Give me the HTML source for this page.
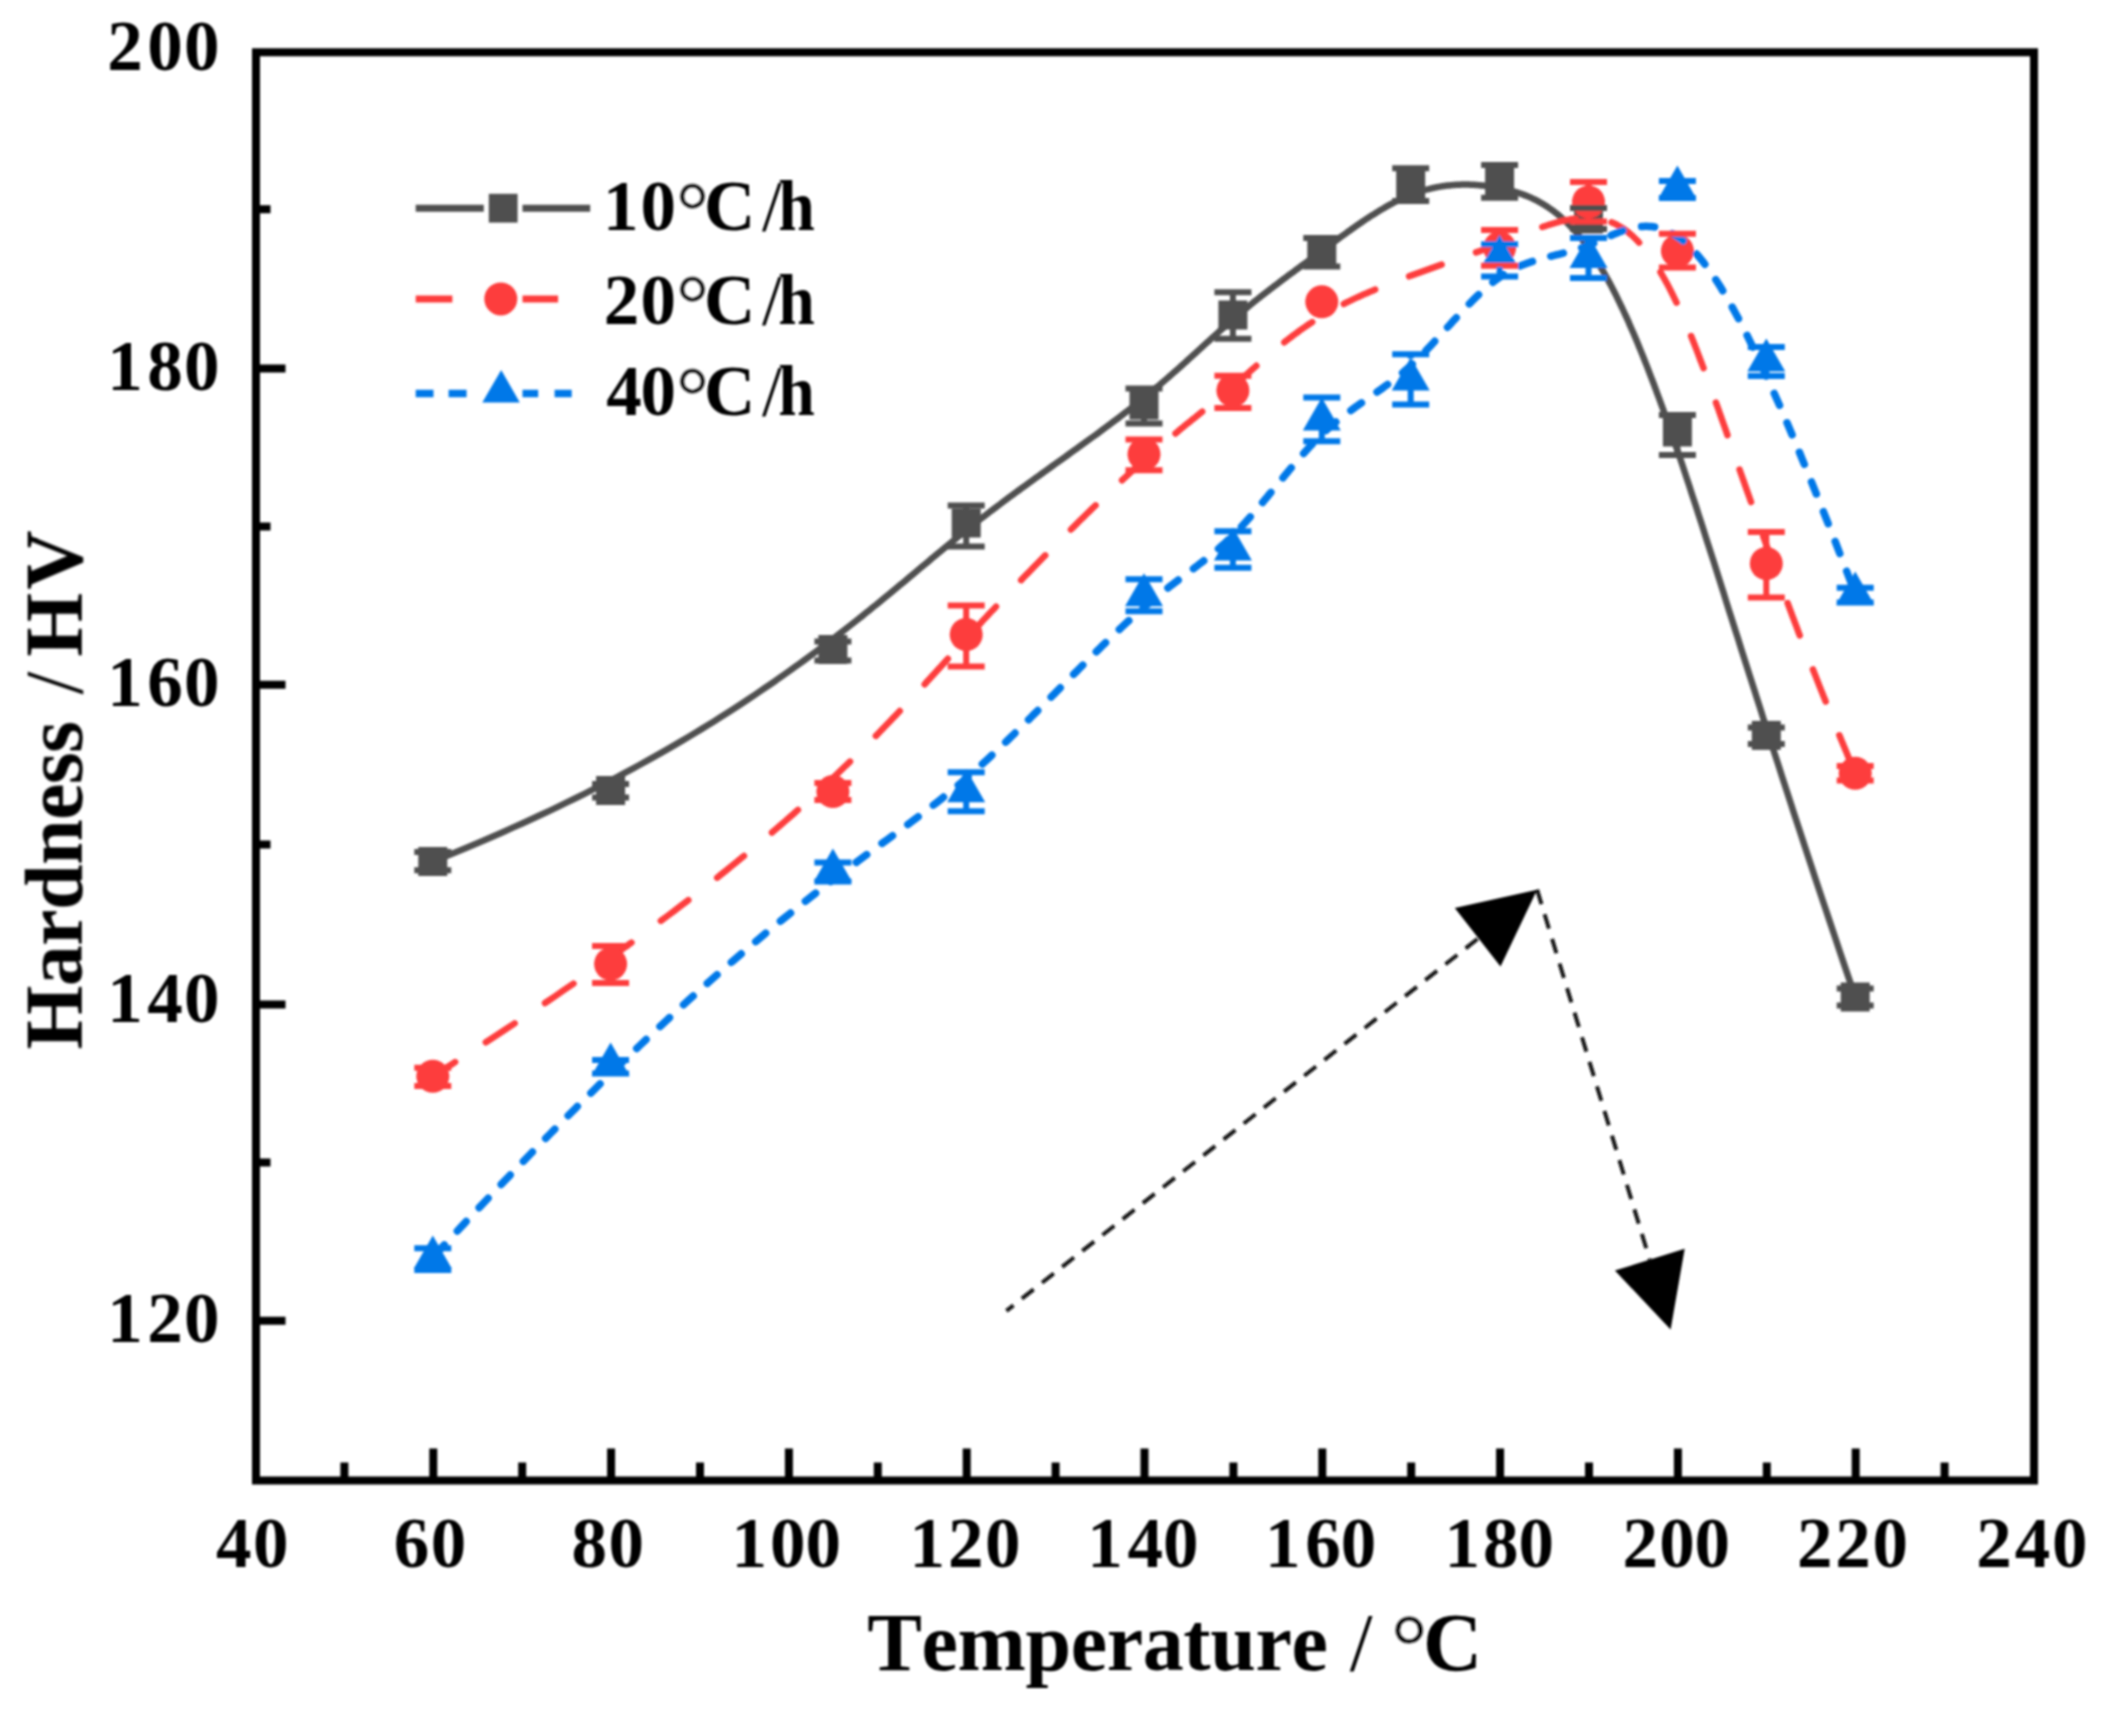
<!DOCTYPE html>
<html lang="en"><head><meta charset="utf-8"><title>Hardness vs Temperature</title>
<style>html,body{margin:0;padding:0;background:#fff}svg{display:block}text{font-family:"Liberation Serif",serif;font-weight:bold;fill:#000;font-kerning:none}</style></head><body>
<svg width="2101" height="1718" viewBox="0 0 2101 1718">
<defs><filter id="soft" x="0" y="0" width="2101" height="1718" filterUnits="userSpaceOnUse"><feGaussianBlur stdDeviation="0.9"/></filter></defs>
<rect width="2101" height="1718" fill="#fff"/>
<g filter="url(#soft)">
<g id="plot-black"><path d="M432.8,861.5 L443.4,857.2 L453.9,853.0 L464.2,848.7 L474.3,844.4 L484.3,840.2 L494.1,835.9 L503.8,831.7 L513.3,827.4 L522.7,823.2 L531.9,819.0 L541.0,814.8 L550.0,810.6 L558.8,806.4 L567.4,802.2 L576.0,798.0 L584.4,793.8 L592.6,789.6 L600.7,785.5 L608.7,781.4 L616.6,777.3 L624.3,773.1 L631.9,769.1 L639.4,765.0 L646.8,760.9 L654.0,756.9 L661.1,752.9 L668.1,748.9 L675.0,744.9 L681.8,740.9 L688.4,737.0 L695.0,733.0 L701.4,729.1 L707.7,725.2 L713.9,721.4 L720.0,717.6 L726.0,713.7 L731.9,710.0 L737.7,706.2 L743.4,702.5 L749.0,698.8 L754.5,695.1 L759.9,691.4 L765.2,687.8 L770.5,684.2 L775.6,680.7 L780.6,677.1 L785.6,673.6 L790.5,670.2 L795.3,666.7 L800.0,663.3 L804.6,660.0 L809.2,656.6 L813.6,653.3 L818.0,650.1 L822.4,646.8 L826.6,643.6 L830.8,640.4 L834.9,637.3 L839.0,634.2 L843.0,631.1 L846.9,628.0 L850.8,625.0 L854.6,622.0 L858.4,619.0 L862.1,616.1 L865.8,613.1 L869.4,610.2 L872.9,607.3 L876.5,604.5 L879.9,601.7 L883.4,598.8 L886.8,596.0 L890.2,593.3 L893.5,590.5 L896.8,587.8 L900.0,585.1 L903.3,582.4 L906.5,579.7 L909.7,577.0 L912.8,574.4 L916.0,571.8 L919.1,569.1 L922.2,566.5 L925.3,564.0 L928.4,561.4 L931.4,558.8 L934.5,556.3 L937.5,553.7 L940.6,551.2 L943.6,548.7 L946.6,546.2 L949.7,543.7 L952.7,541.2 L955.8,538.7 L958.8,536.2 L961.9,533.8 L964.9,531.3 L968.0,528.8 L971.1,526.4 L974.2,523.9 L977.4,521.5 L980.5,519.0 L983.7,516.6 L986.8,514.2 L990.0,511.7 L993.2,509.3 L996.5,506.9 L999.7,504.5 L1002.9,502.0 L1006.1,499.6 L1009.4,497.2 L1012.6,494.8 L1015.9,492.4 L1019.2,490.0 L1022.4,487.7 L1025.7,485.3 L1029.0,482.9 L1032.2,480.6 L1035.5,478.2 L1038.8,475.8 L1042.0,473.5 L1045.3,471.2 L1048.5,468.8 L1051.7,466.5 L1055.0,464.2 L1058.2,461.9 L1061.4,459.6 L1064.6,457.3 L1067.8,455.0 L1071.0,452.7 L1074.1,450.4 L1077.3,448.2 L1080.4,445.9 L1083.5,443.7 L1086.6,441.4 L1089.7,439.2 L1092.7,437.0 L1095.8,434.8 L1098.8,432.6 L1101.7,430.4 L1104.7,428.2 L1107.6,426.0 L1110.5,423.9 L1113.4,421.7 L1116.2,419.6 L1119.1,417.5 L1121.8,415.3 L1124.6,413.2 L1127.3,411.1 L1130.0,409.0 L1132.6,407.0 L1135.2,404.9 L1137.8,402.9 L1140.4,400.8 L1142.9,398.8 L1145.3,396.8 L1147.8,394.8 L1150.2,392.8 L1152.6,390.8 L1154.9,388.8 L1157.3,386.8 L1159.6,384.9 L1161.8,382.9 L1164.1,381.0 L1166.3,379.1 L1168.5,377.2 L1170.7,375.3 L1172.8,373.4 L1175.0,371.5 L1177.1,369.7 L1179.2,367.8 L1181.2,366.0 L1183.3,364.1 L1185.3,362.3 L1187.3,360.5 L1189.3,358.7 L1191.3,356.9 L1193.2,355.1 L1195.2,353.4 L1197.1,351.6 L1199.0,349.9 L1200.9,348.2 L1202.8,346.4 L1204.7,344.7 L1206.5,343.0 L1208.4,341.3 L1210.2,339.7 L1212.0,338.0 L1213.9,336.3 L1215.7,334.7 L1217.5,333.1 L1219.3,331.4 L1221.1,329.8 L1222.9,328.2 L1224.7,326.6 L1226.5,325.0 L1228.3,323.5 L1230.0,321.9 L1231.8,320.4 L1233.6,318.8 L1235.4,317.3 L1237.2,315.8 L1239.0,314.3 L1240.7,312.8 L1242.5,311.3 L1244.3,309.8 L1246.1,308.4 L1247.9,306.9 L1249.6,305.5 L1251.4,304.0 L1253.2,302.6 L1255.0,301.1 L1256.8,299.7 L1258.6,298.3 L1260.3,296.9 L1262.1,295.5 L1263.9,294.1 L1265.7,292.7 L1267.5,291.4 L1269.2,290.0 L1271.0,288.6 L1272.8,287.3 L1274.6,285.9 L1276.4,284.6 L1278.2,283.2 L1279.9,281.9 L1281.7,280.5 L1283.5,279.2 L1285.3,277.9 L1287.1,276.5 L1288.8,275.2 L1290.6,273.9 L1292.4,272.6 L1294.2,271.3 L1296.0,269.9 L1297.7,268.6 L1299.5,267.3 L1301.3,266.0 L1303.1,264.7 L1304.9,263.4 L1306.7,262.1 L1308.4,260.8 L1310.2,259.5 L1312.0,258.2 L1313.8,256.9 L1315.6,255.6 L1317.3,254.2 L1319.1,252.9 L1320.9,251.6 L1322.7,250.3 L1324.5,249.0 L1326.3,247.7 L1328.0,246.4 L1329.8,245.1 L1331.6,243.7 L1333.4,242.4 L1335.2,241.1 L1336.9,239.8 L1338.7,238.5 L1340.5,237.2 L1342.3,235.9 L1344.1,234.6 L1345.9,233.3 L1347.6,232.0 L1349.4,230.8 L1351.2,229.5 L1353.0,228.2 L1354.8,227.0 L1356.5,225.7 L1358.3,224.5 L1360.1,223.3 L1361.9,222.0 L1363.7,220.8 L1365.4,219.6 L1367.2,218.5 L1369.0,217.3 L1370.8,216.1 L1372.6,215.0 L1374.4,213.9 L1376.1,212.8 L1377.9,211.7 L1379.7,210.6 L1381.5,209.5 L1383.3,208.5 L1385.0,207.4 L1386.8,206.4 L1388.6,205.4 L1390.4,204.4 L1392.2,203.5 L1394.0,202.5 L1395.7,201.6 L1397.5,200.7 L1399.3,199.9 L1401.1,199.0 L1402.9,198.2 L1404.6,197.4 L1406.4,196.6 L1408.2,195.9 L1410.0,195.1 L1411.8,194.4 L1413.6,193.8 L1415.3,193.1 L1417.1,192.5 L1418.9,191.9 L1420.7,191.3 L1422.5,190.8 L1424.2,190.2 L1426.0,189.7 L1427.8,189.3 L1429.6,188.8 L1431.4,188.4 L1433.1,188.0 L1434.9,187.6 L1436.7,187.2 L1438.5,186.9 L1440.3,186.6 L1442.1,186.3 L1443.8,186.1 L1445.6,185.8 L1447.4,185.6 L1449.2,185.4 L1451.0,185.2 L1452.7,185.1 L1454.5,184.9 L1456.3,184.8 L1458.1,184.7 L1459.9,184.7 L1461.7,184.6 L1463.4,184.6 L1465.2,184.6 L1467.0,184.6 L1468.8,184.6 L1470.6,184.7 L1472.3,184.7 L1474.1,184.8 L1475.9,184.9 L1477.7,185.1 L1479.5,185.2 L1481.2,185.4 L1483.0,185.6 L1484.8,185.8 L1486.6,186.0 L1488.4,186.2 L1490.2,186.5 L1491.9,186.7 L1493.7,187.0 L1495.5,187.3 L1497.3,187.7 L1499.1,188.0 L1500.8,188.3 L1502.6,188.7 L1504.4,189.1 L1506.2,189.5 L1508.0,189.9 L1509.8,190.4 L1511.5,190.9 L1513.3,191.4 L1515.1,191.9 L1516.9,192.4 L1518.7,193.0 L1520.4,193.6 L1522.2,194.2 L1524.0,194.9 L1525.8,195.6 L1527.6,196.3 L1529.4,197.1 L1531.1,197.8 L1532.9,198.7 L1534.7,199.5 L1536.5,200.4 L1538.3,201.4 L1540.0,202.3 L1541.8,203.4 L1543.6,204.4 L1545.4,205.5 L1547.2,206.7 L1548.9,207.9 L1550.7,209.1 L1552.5,210.4 L1554.3,211.7 L1556.1,213.1 L1557.9,214.5 L1559.6,216.0 L1561.4,217.6 L1563.2,219.2 L1565.0,220.8 L1566.8,222.5 L1568.5,224.3 L1570.3,226.1 L1572.1,228.0 L1573.9,229.9 L1575.7,231.9 L1577.5,234.0 L1579.2,236.1 L1581.0,238.3 L1582.8,240.6 L1584.6,242.9 L1586.4,245.3 L1588.1,247.7 L1589.9,250.3 L1591.7,252.9 L1593.5,255.5 L1595.3,258.3 L1597.1,261.1 L1598.8,264.0 L1600.6,267.0 L1602.4,270.0 L1604.2,273.1 L1606.0,276.3 L1607.8,279.6 L1609.6,282.9 L1611.4,286.3 L1613.2,289.8 L1615.1,293.4 L1616.9,297.1 L1618.7,300.8 L1620.5,304.6 L1622.4,308.5 L1624.2,312.5 L1626.1,316.5 L1628.0,320.6 L1629.8,324.9 L1631.7,329.2 L1633.6,333.5 L1635.5,338.0 L1637.4,342.5 L1639.3,347.2 L1641.2,351.9 L1643.2,356.7 L1645.1,361.6 L1647.1,366.6 L1649.0,371.6 L1651.0,376.8 L1653.0,382.0 L1655.0,387.4 L1657.0,392.8 L1659.1,398.3 L1661.1,403.9 L1663.2,409.6 L1665.2,415.4 L1667.3,421.3 L1669.4,427.2 L1671.5,433.3 L1673.7,439.5 L1675.8,445.7 L1678.0,452.1 L1680.2,458.5 L1682.4,465.0 L1684.6,471.7 L1686.8,478.4 L1689.1,485.2 L1691.3,492.2 L1693.6,499.2 L1696.0,506.4 L1698.3,513.7 L1700.7,521.0 L1703.1,528.5 L1705.5,536.2 L1708.0,543.9 L1710.5,551.8 L1713.1,559.8 L1715.7,568.0 L1718.3,576.3 L1721.0,584.7 L1723.7,593.3 L1726.4,602.1 L1729.2,611.0 L1732.1,620.0 L1735.0,629.2 L1738.0,638.6 L1741.0,648.2 L1744.1,657.9 L1747.2,667.8 L1750.4,677.8 L1753.7,688.1 L1757.0,698.5 L1760.4,709.1 L1763.8,719.9 L1767.3,730.9 L1770.9,742.1 L1774.6,753.5 L1778.4,765.1 L1782.2,777.0 L1786.1,789.0 L1790.1,801.2 L1794.1,813.7 L1798.3,826.4 L1802.5,839.3 L1806.8,852.4 L1811.2,865.8 L1815.7,879.4 L1820.3,893.2 L1825.0,907.3 L1829.8,921.6 L1834.7,936.2 L1839.6,951.0 L1844.7,966.1 L1849.9,981.4 L1855.2,997.0" fill="none" stroke="#4f4f4f" stroke-width="6.5" stroke-linejoin="round"/>
<rect x="418.3" y="847.0" width="29.0" height="29.0" fill="#4f4f4f"/>
<rect x="596.1" y="776.0" width="29.0" height="29.0" fill="#4f4f4f"/>
<rect x="818.4" y="635.0" width="29.0" height="29.0" fill="#4f4f4f"/>
<rect x="951.7" y="508.5" width="29.0" height="29.0" fill="#4f4f4f"/>
<rect x="1129.5" y="390.5" width="29.0" height="29.0" fill="#4f4f4f"/>
<rect x="1218.4" y="300.5" width="29.0" height="29.0" fill="#4f4f4f"/>
<rect x="1307.3" y="237.2" width="29.0" height="29.0" fill="#4f4f4f"/>
<rect x="1396.2" y="169.5" width="29.0" height="29.0" fill="#4f4f4f"/>
<rect x="1485.1" y="166.9" width="29.0" height="29.0" fill="#4f4f4f"/>
<rect x="1574.0" y="204.5" width="29.0" height="29.0" fill="#4f4f4f"/>
<rect x="1662.9" y="417.5" width="29.0" height="29.0" fill="#4f4f4f"/>
<rect x="1751.8" y="720.9" width="29.0" height="29.0" fill="#4f4f4f"/>
<rect x="1840.7" y="982.5" width="29.0" height="29.0" fill="#4f4f4f"/></g>
<g id="plot-red"><path d="M432.8,1076.3 L442.4,1070.2 L451.8,1064.2 L461.1,1058.3 L470.3,1052.4 L479.3,1046.5 L488.2,1040.7 L497.0,1035.0 L505.7,1029.3 L514.3,1023.6 L522.7,1018.0 L531.0,1012.5 L539.2,1007.0 L547.3,1001.5 L555.3,996.1 L563.1,990.7 L570.9,985.4 L578.5,980.1 L586.0,974.9 L593.4,969.7 L600.7,964.5 L607.9,959.4 L615.0,954.4 L622.0,949.4 L628.9,944.4 L635.7,939.5 L642.4,934.6 L649.0,929.7 L655.5,924.9 L661.8,920.2 L668.1,915.5 L674.3,910.8 L680.4,906.2 L686.4,901.6 L692.4,897.0 L698.2,892.5 L703.9,888.0 L709.6,883.6 L715.2,879.2 L720.6,874.9 L726.0,870.6 L731.3,866.3 L736.6,862.0 L741.7,857.8 L746.8,853.7 L751.8,849.5 L756.7,845.4 L761.5,841.4 L766.3,837.4 L771.0,833.4 L775.6,829.4 L780.1,825.5 L784.6,821.6 L789.0,817.8 L793.4,814.0 L797.6,810.2 L801.8,806.4 L806.0,802.7 L810.1,799.0 L814.1,795.4 L818.0,791.8 L821.9,788.2 L825.8,784.6 L829.6,781.1 L833.3,777.6 L837.0,774.1 L840.6,770.6 L844.2,767.2 L847.7,763.8 L851.2,760.4 L854.6,757.1 L858.0,753.7 L861.4,750.4 L864.7,747.1 L867.9,743.9 L871.2,740.6 L874.4,737.4 L877.5,734.2 L880.6,731.0 L883.7,727.8 L886.8,724.6 L889.8,721.5 L892.8,718.3 L895.8,715.2 L898.7,712.1 L901.7,709.0 L904.6,705.9 L907.4,702.8 L910.3,699.8 L913.1,696.7 L916.0,693.7 L918.8,690.6 L921.6,687.6 L924.4,684.6 L927.1,681.5 L929.9,678.5 L932.6,675.5 L935.4,672.5 L938.1,669.5 L940.9,666.5 L943.6,663.5 L946.3,660.5 L949.1,657.5 L951.8,654.5 L954.5,651.5 L957.3,648.4 L960.0,645.4 L962.8,642.4 L965.6,639.4 L968.3,636.4 L971.1,633.3 L973.9,630.3 L976.7,627.2 L979.6,624.2 L982.4,621.1 L985.3,618.1 L988.1,615.0 L991.0,611.9 L993.9,608.9 L996.8,605.8 L999.7,602.7 L1002.6,599.6 L1005.5,596.5 L1008.4,593.5 L1011.3,590.4 L1014.3,587.3 L1017.2,584.3 L1020.1,581.2 L1023.1,578.1 L1026.0,575.1 L1029.0,572.1 L1031.9,569.0 L1034.8,566.0 L1037.8,563.0 L1040.7,560.0 L1043.6,557.0 L1046.6,554.0 L1049.5,551.0 L1052.4,548.1 L1055.3,545.2 L1058.2,542.2 L1061.1,539.3 L1064.0,536.4 L1066.8,533.6 L1069.7,530.7 L1072.6,527.9 L1075.4,525.1 L1078.2,522.3 L1081.0,519.5 L1083.8,516.8 L1086.6,514.0 L1089.4,511.3 L1092.1,508.7 L1094.9,506.0 L1097.6,503.4 L1100.3,500.8 L1102.9,498.2 L1105.6,495.7 L1108.2,493.2 L1110.8,490.7 L1113.4,488.3 L1116.0,485.9 L1118.5,483.5 L1121.0,481.2 L1123.5,478.9 L1126.0,476.6 L1128.4,474.4 L1130.8,472.2 L1133.2,470.0 L1135.5,467.9 L1137.8,465.8 L1140.1,463.8 L1142.4,461.7 L1144.6,459.8 L1146.8,457.8 L1149.0,455.9 L1151.2,454.0 L1153.3,452.2 L1155.4,450.3 L1157.5,448.5 L1159.6,446.7 L1161.6,445.0 L1163.6,443.3 L1165.7,441.6 L1167.6,439.9 L1169.6,438.3 L1171.6,436.6 L1173.5,435.0 L1175.4,433.5 L1177.3,431.9 L1179.2,430.3 L1181.0,428.8 L1182.9,427.3 L1184.7,425.8 L1186.5,424.3 L1188.3,422.9 L1190.1,421.4 L1191.8,420.0 L1193.6,418.6 L1195.4,417.2 L1197.1,415.8 L1198.8,414.4 L1200.5,413.0 L1202.2,411.6 L1203.9,410.3 L1205.6,408.9 L1207.3,407.5 L1208.9,406.2 L1210.6,404.9 L1212.2,403.5 L1213.9,402.2 L1215.5,400.8 L1217.1,399.5 L1218.8,398.2 L1220.4,396.8 L1222.0,395.5 L1223.6,394.2 L1225.2,392.8 L1226.8,391.5 L1228.4,390.1 L1230.0,388.8 L1231.7,387.4 L1233.3,386.0 L1234.9,384.6 L1236.5,383.3 L1238.1,381.9 L1239.7,380.5 L1241.3,379.1 L1242.9,377.6 L1244.5,376.2 L1246.1,374.8 L1247.8,373.4 L1249.4,371.9 L1251.0,370.5 L1252.7,369.0 L1254.3,367.6 L1256.0,366.1 L1257.6,364.7 L1259.3,363.2 L1261.0,361.8 L1262.6,360.3 L1264.3,358.8 L1266.0,357.4 L1267.8,355.9 L1269.5,354.4 L1271.2,353.0 L1273.0,351.5 L1274.7,350.0 L1276.5,348.6 L1278.3,347.1 L1280.1,345.6 L1281.9,344.2 L1283.8,342.7 L1285.6,341.2 L1287.5,339.8 L1289.4,338.3 L1291.3,336.9 L1293.2,335.4 L1295.1,334.0 L1297.1,332.6 L1299.0,331.1 L1301.0,329.7 L1303.0,328.3 L1305.1,326.9 L1307.1,325.5 L1309.2,324.0 L1311.3,322.7 L1313.4,321.3 L1315.6,319.9 L1317.8,318.5 L1320.0,317.1 L1322.2,315.8 L1324.4,314.4 L1326.7,313.1 L1329.0,311.8 L1331.3,310.5 L1333.7,309.2 L1336.1,307.9 L1338.5,306.6 L1340.9,305.3 L1343.4,304.1 L1345.9,302.8 L1348.4,301.6 L1351.0,300.3 L1353.5,299.1 L1356.1,297.9 L1358.7,296.7 L1361.4,295.5 L1364.0,294.3 L1366.7,293.2 L1369.3,292.0 L1372.0,290.9 L1374.8,289.7 L1377.5,288.6 L1380.2,287.5 L1383.0,286.3 L1385.7,285.2 L1388.5,284.1 L1391.3,283.0 L1394.1,282.0 L1396.8,280.9 L1399.6,279.8 L1402.4,278.8 L1405.2,277.7 L1408.1,276.7 L1410.9,275.6 L1413.7,274.6 L1416.5,273.6 L1419.3,272.6 L1422.1,271.6 L1424.9,270.6 L1427.7,269.6 L1430.4,268.6 L1433.2,267.6 L1436.0,266.6 L1438.7,265.6 L1441.5,264.7 L1444.2,263.7 L1446.9,262.7 L1449.7,261.8 L1452.4,260.8 L1455.0,259.9 L1457.7,258.9 L1460.3,258.0 L1463.0,257.1 L1465.6,256.2 L1468.2,255.2 L1470.7,254.3 L1473.3,253.4 L1475.8,252.5 L1478.3,251.6 L1480.7,250.7 L1483.2,249.8 L1485.6,248.9 L1488.0,248.0 L1490.3,247.1 L1492.6,246.2 L1494.9,245.3 L1497.2,244.4 L1499.5,243.5 L1501.7,242.7 L1503.9,241.8 L1506.0,241.0 L1508.2,240.1 L1510.3,239.3 L1512.4,238.4 L1514.5,237.6 L1516.5,236.8 L1518.6,236.0 L1520.6,235.2 L1522.6,234.4 L1524.6,233.6 L1526.5,232.9 L1528.4,232.1 L1530.4,231.4 L1532.3,230.7 L1534.1,230.0 L1536.0,229.3 L1537.8,228.6 L1539.7,227.9 L1541.5,227.3 L1543.3,226.7 L1545.1,226.1 L1546.9,225.5 L1548.6,224.9 L1550.4,224.3 L1552.1,223.8 L1553.8,223.3 L1555.5,222.8 L1557.3,222.3 L1558.9,221.8 L1560.6,221.4 L1562.3,221.0 L1564.0,220.6 L1565.6,220.2 L1567.3,219.9 L1568.9,219.6 L1570.6,219.3 L1572.2,219.0 L1573.8,218.8 L1575.4,218.5 L1577.1,218.3 L1578.7,218.2 L1580.3,218.0 L1581.9,217.9 L1583.5,217.9 L1585.1,217.8 L1586.7,217.8 L1588.3,217.8 L1589.9,217.8 L1591.5,217.9 L1593.1,218.0 L1594.7,218.2 L1596.3,218.3 L1598.0,218.6 L1599.6,218.8 L1601.2,219.1 L1602.8,219.5 L1604.4,219.9 L1606.0,220.4 L1607.6,220.9 L1609.3,221.4 L1610.9,222.0 L1612.5,222.7 L1614.2,223.4 L1615.8,224.2 L1617.4,225.1 L1619.1,226.0 L1620.7,227.0 L1622.4,228.0 L1624.1,229.2 L1625.7,230.3 L1627.4,231.6 L1629.1,233.0 L1630.8,234.4 L1632.5,235.9 L1634.2,237.5 L1635.9,239.2 L1637.6,240.9 L1639.3,242.8 L1641.0,244.7 L1642.8,246.7 L1644.5,248.9 L1646.3,251.1 L1648.1,253.4 L1649.8,255.8 L1651.6,258.3 L1653.4,260.9 L1655.2,263.7 L1657.0,266.5 L1658.9,269.4 L1660.7,272.5 L1662.5,275.6 L1664.4,278.9 L1666.3,282.3 L1668.2,285.8 L1670.1,289.4 L1672.0,293.2 L1673.9,297.1 L1675.8,301.1 L1677.8,305.2 L1679.7,309.5 L1681.7,313.9 L1683.7,318.4 L1685.7,323.0 L1687.7,327.8 L1689.8,332.8 L1691.8,337.8 L1693.9,343.0 L1696.0,348.4 L1698.1,353.9 L1700.2,359.5 L1702.4,365.2 L1704.6,371.1 L1706.8,377.1 L1709.0,383.2 L1711.3,389.4 L1713.6,395.8 L1715.9,402.4 L1718.3,409.0 L1720.7,415.8 L1723.1,422.7 L1725.6,429.7 L1728.1,436.9 L1730.7,444.1 L1733.3,451.5 L1735.9,459.1 L1738.6,466.7 L1741.3,474.5 L1744.1,482.4 L1746.9,490.4 L1749.8,498.5 L1752.7,506.8 L1755.6,515.2 L1758.7,523.7 L1761.7,532.3 L1764.9,541.0 L1768.1,549.9 L1771.3,558.8 L1774.6,567.9 L1778.0,577.1 L1781.4,586.5 L1784.9,595.9 L1788.5,605.4 L1792.1,615.1 L1795.8,624.9 L1799.5,634.8 L1803.3,644.8 L1807.2,654.9 L1811.2,665.1 L1815.3,675.4 L1819.4,685.9 L1823.6,696.4 L1827.9,707.1 L1832.2,717.9 L1836.6,728.7 L1841.2,739.7 L1845.8,750.8 L1850.4,762.0 L1855.2,773.3" fill="none" stroke="#fd3c3c" stroke-width="6.5" stroke-linejoin="round" stroke-dasharray="34.5 36.5" stroke-dashoffset="8" stroke-linecap="round"/>
<circle cx="432.8" cy="1076.3" r="16.5" fill="#fd3c3c"/>
<circle cx="610.6" cy="964.0" r="16.5" fill="#fd3c3c"/>
<circle cx="832.9" cy="791.6" r="16.5" fill="#fd3c3c"/>
<circle cx="966.2" cy="634.5" r="16.5" fill="#fd3c3c"/>
<circle cx="1144.0" cy="454.2" r="16.5" fill="#fd3c3c"/>
<circle cx="1232.9" cy="390.5" r="16.5" fill="#fd3c3c"/>
<circle cx="1321.8" cy="301.8" r="16.5" fill="#fd3c3c"/>
<circle cx="1499.6" cy="247.8" r="16.5" fill="#fd3c3c"/>
<circle cx="1588.5" cy="202.0" r="16.5" fill="#fd3c3c"/>
<circle cx="1677.4" cy="251.0" r="16.5" fill="#fd3c3c"/>
<circle cx="1766.3" cy="563.5" r="16.5" fill="#fd3c3c"/>
<circle cx="1855.2" cy="773.3" r="16.5" fill="#fd3c3c"/></g>
<g id="plot-blue"><path d="M432.8,1257.4 L443.4,1245.9 L453.9,1234.7 L464.2,1223.6 L474.3,1212.8 L484.3,1202.2 L494.1,1191.9 L503.8,1181.7 L513.3,1171.8 L522.7,1162.0 L531.9,1152.5 L541.0,1143.2 L550.0,1134.0 L558.8,1125.1 L567.4,1116.4 L576.0,1107.8 L584.4,1099.4 L592.6,1091.3 L600.7,1083.3 L608.7,1075.4 L616.6,1067.8 L624.3,1060.3 L631.9,1053.0 L639.4,1045.9 L646.8,1038.9 L654.0,1032.1 L661.1,1025.4 L668.1,1018.9 L675.0,1012.6 L681.8,1006.4 L688.4,1000.3 L695.0,994.4 L701.4,988.7 L707.7,983.0 L713.9,977.5 L720.0,972.2 L726.0,966.9 L731.9,961.8 L737.7,956.8 L743.4,952.0 L749.0,947.2 L754.5,942.6 L759.9,938.1 L765.2,933.6 L770.5,929.3 L775.6,925.1 L780.6,921.0 L785.6,917.0 L790.5,913.1 L795.3,909.2 L800.0,905.5 L804.6,901.8 L809.2,898.3 L813.6,894.8 L818.0,891.3 L822.4,888.0 L826.6,884.7 L830.8,881.5 L834.9,878.4 L839.0,875.3 L843.0,872.3 L846.9,869.3 L850.8,866.4 L854.6,863.6 L858.4,860.8 L862.1,858.0 L865.8,855.3 L869.4,852.7 L872.9,850.0 L876.5,847.4 L879.9,844.9 L883.4,842.4 L886.8,839.9 L890.2,837.4 L893.5,835.0 L896.8,832.6 L900.0,830.2 L903.3,827.8 L906.5,825.4 L909.7,823.1 L912.8,820.7 L916.0,818.4 L919.1,816.0 L922.2,813.7 L925.3,811.3 L928.4,809.0 L931.4,806.6 L934.5,804.2 L937.5,801.9 L940.6,799.5 L943.6,797.0 L946.6,794.6 L949.7,792.1 L952.7,789.7 L955.8,787.1 L958.8,784.6 L961.9,782.0 L964.9,779.4 L968.0,776.7 L971.1,774.0 L974.2,771.3 L977.4,768.5 L980.5,765.7 L983.7,762.8 L986.8,759.9 L990.0,756.9 L993.2,753.9 L996.5,750.9 L999.7,747.9 L1002.9,744.8 L1006.1,741.7 L1009.4,738.5 L1012.6,735.4 L1015.9,732.2 L1019.2,729.0 L1022.4,725.8 L1025.7,722.5 L1029.0,719.3 L1032.2,716.0 L1035.5,712.8 L1038.8,709.5 L1042.0,706.2 L1045.3,703.0 L1048.5,699.7 L1051.7,696.4 L1055.0,693.2 L1058.2,689.9 L1061.4,686.7 L1064.6,683.5 L1067.8,680.2 L1071.0,677.0 L1074.1,673.8 L1077.3,670.7 L1080.4,667.5 L1083.5,664.4 L1086.6,661.3 L1089.7,658.3 L1092.7,655.2 L1095.8,652.2 L1098.8,649.3 L1101.7,646.3 L1104.7,643.5 L1107.6,640.6 L1110.5,637.8 L1113.4,635.1 L1116.2,632.3 L1119.1,629.7 L1121.8,627.1 L1124.6,624.5 L1127.3,622.0 L1130.0,619.6 L1132.6,617.2 L1135.2,614.9 L1137.8,612.7 L1140.4,610.4 L1142.9,608.3 L1145.3,606.2 L1147.8,604.1 L1150.2,602.1 L1152.6,600.2 L1154.9,598.2 L1157.3,596.4 L1159.6,594.5 L1161.8,592.7 L1164.1,590.9 L1166.3,589.2 L1168.5,587.5 L1170.7,585.8 L1172.8,584.2 L1175.0,582.5 L1177.1,580.9 L1179.2,579.4 L1181.2,577.8 L1183.3,576.3 L1185.3,574.8 L1187.3,573.2 L1189.3,571.8 L1191.3,570.3 L1193.2,568.8 L1195.2,567.3 L1197.1,565.9 L1199.0,564.4 L1200.9,562.9 L1202.8,561.5 L1204.7,560.0 L1206.5,558.6 L1208.4,557.1 L1210.2,555.6 L1212.0,554.1 L1213.9,552.6 L1215.7,551.1 L1217.5,549.6 L1219.3,548.0 L1221.1,546.4 L1222.9,544.8 L1224.7,543.2 L1226.5,541.6 L1228.3,539.9 L1230.0,538.2 L1231.8,536.5 L1233.6,534.7 L1235.4,532.9 L1237.2,531.1 L1239.0,529.3 L1240.7,527.4 L1242.5,525.5 L1244.3,523.5 L1246.1,521.6 L1247.9,519.6 L1249.6,517.6 L1251.4,515.6 L1253.2,513.5 L1255.0,511.4 L1256.8,509.4 L1258.6,507.3 L1260.3,505.1 L1262.1,503.0 L1263.9,500.9 L1265.7,498.7 L1267.5,496.6 L1269.2,494.4 L1271.0,492.3 L1272.8,490.1 L1274.6,487.9 L1276.4,485.8 L1278.2,483.6 L1279.9,481.4 L1281.7,479.3 L1283.5,477.1 L1285.3,474.9 L1287.1,472.8 L1288.8,470.7 L1290.6,468.5 L1292.4,466.4 L1294.2,464.3 L1296.0,462.2 L1297.7,460.1 L1299.5,458.1 L1301.3,456.1 L1303.1,454.0 L1304.9,452.0 L1306.7,450.1 L1308.4,448.1 L1310.2,446.2 L1312.0,444.3 L1313.8,442.4 L1315.6,440.6 L1317.3,438.8 L1319.1,437.0 L1320.9,435.3 L1322.7,433.6 L1324.5,431.9 L1326.3,430.3 L1328.0,428.7 L1329.8,427.1 L1331.6,425.6 L1333.4,424.0 L1335.2,422.6 L1336.9,421.1 L1338.7,419.7 L1340.5,418.2 L1342.3,416.9 L1344.1,415.5 L1345.9,414.1 L1347.6,412.8 L1349.4,411.5 L1351.2,410.2 L1353.0,408.9 L1354.8,407.6 L1356.5,406.3 L1358.3,405.1 L1360.1,403.8 L1361.9,402.6 L1363.7,401.3 L1365.4,400.1 L1367.2,398.9 L1369.0,397.6 L1370.8,396.4 L1372.6,395.2 L1374.4,393.9 L1376.1,392.7 L1377.9,391.4 L1379.7,390.2 L1381.5,388.9 L1383.3,387.6 L1385.0,386.3 L1386.8,385.0 L1388.6,383.7 L1390.4,382.4 L1392.2,381.0 L1394.0,379.7 L1395.7,378.3 L1397.5,376.9 L1399.3,375.4 L1401.1,374.0 L1402.9,372.5 L1404.6,371.0 L1406.4,369.5 L1408.2,367.9 L1410.0,366.3 L1411.8,364.6 L1413.6,363.0 L1415.3,361.3 L1417.1,359.6 L1418.9,357.8 L1420.7,356.0 L1422.5,354.2 L1424.2,352.4 L1426.0,350.6 L1427.8,348.7 L1429.6,346.8 L1431.4,344.9 L1433.1,343.0 L1434.9,341.1 L1436.7,339.2 L1438.5,337.2 L1440.3,335.3 L1442.1,333.3 L1443.8,331.4 L1445.6,329.4 L1447.4,327.4 L1449.2,325.5 L1451.0,323.5 L1452.7,321.6 L1454.5,319.6 L1456.3,317.7 L1458.1,315.7 L1459.9,313.8 L1461.7,311.9 L1463.4,310.0 L1465.2,308.1 L1467.0,306.3 L1468.8,304.4 L1470.6,302.6 L1472.3,300.8 L1474.1,299.0 L1475.9,297.3 L1477.7,295.6 L1479.5,293.9 L1481.2,292.2 L1483.0,290.6 L1484.8,289.0 L1486.6,287.4 L1488.4,285.9 L1490.2,284.4 L1491.9,283.0 L1493.7,281.6 L1495.5,280.2 L1497.3,278.9 L1499.1,277.6 L1500.8,276.4 L1502.6,275.3 L1504.4,274.1 L1506.2,273.1 L1508.0,272.0 L1509.8,271.0 L1511.5,270.1 L1513.3,269.2 L1515.1,268.3 L1516.9,267.5 L1518.7,266.7 L1520.4,265.9 L1522.2,265.1 L1524.0,264.4 L1525.8,263.7 L1527.6,263.1 L1529.4,262.5 L1531.1,261.9 L1532.9,261.3 L1534.7,260.7 L1536.5,260.2 L1538.3,259.6 L1540.0,259.1 L1541.8,258.6 L1543.6,258.1 L1545.4,257.7 L1547.2,257.2 L1548.9,256.7 L1550.7,256.3 L1552.5,255.8 L1554.3,255.4 L1556.1,254.9 L1557.9,254.5 L1559.6,254.1 L1561.4,253.6 L1563.2,253.2 L1565.0,252.7 L1566.8,252.2 L1568.5,251.8 L1570.3,251.3 L1572.1,250.8 L1573.9,250.3 L1575.7,249.8 L1577.5,249.2 L1579.2,248.7 L1581.0,248.1 L1582.8,247.5 L1584.6,246.8 L1586.4,246.2 L1588.1,245.5 L1589.9,244.8 L1591.7,244.1 L1593.5,243.3 L1595.3,242.6 L1597.1,241.8 L1598.8,241.0 L1600.6,240.2 L1602.4,239.4 L1604.2,238.6 L1606.0,237.7 L1607.8,236.9 L1609.6,236.1 L1611.4,235.3 L1613.2,234.5 L1615.1,233.8 L1616.9,233.0 L1618.7,232.3 L1620.5,231.6 L1622.4,230.9 L1624.2,230.3 L1626.1,229.7 L1628.0,229.1 L1629.8,228.6 L1631.7,228.1 L1633.6,227.7 L1635.5,227.3 L1637.4,227.0 L1639.3,226.8 L1641.2,226.6 L1643.2,226.4 L1645.1,226.3 L1647.1,226.3 L1649.0,226.4 L1651.0,226.6 L1653.0,226.8 L1655.0,227.1 L1657.0,227.5 L1659.1,228.0 L1661.1,228.6 L1663.2,229.3 L1665.2,230.1 L1667.3,231.0 L1669.4,232.0 L1671.5,233.1 L1673.7,234.3 L1675.8,235.6 L1678.0,237.1 L1680.2,238.6 L1682.4,240.3 L1684.6,242.1 L1686.8,244.1 L1689.1,246.2 L1691.3,248.4 L1693.6,250.8 L1696.0,253.3 L1698.3,256.0 L1700.7,258.9 L1703.1,261.9 L1705.5,265.0 L1708.0,268.4 L1710.5,271.9 L1713.1,275.6 L1715.7,279.5 L1718.3,283.5 L1721.0,287.8 L1723.7,292.3 L1726.4,296.9 L1729.2,301.8 L1732.1,306.9 L1735.0,312.2 L1738.0,317.7 L1741.0,323.5 L1744.1,329.4 L1747.2,335.6 L1750.4,342.1 L1753.7,348.8 L1757.0,355.7 L1760.4,362.9 L1763.8,370.3 L1767.3,378.0 L1770.9,386.0 L1774.6,394.2 L1778.4,402.7 L1782.2,411.5 L1786.1,420.6 L1790.1,430.0 L1794.1,439.6 L1798.3,449.5 L1802.5,459.8 L1806.8,470.3 L1811.2,481.2 L1815.7,492.4 L1820.3,503.8 L1825.0,515.6 L1829.8,527.8 L1834.7,540.2 L1839.6,553.0 L1844.7,566.2 L1849.9,579.7 L1855.2,593.5" fill="none" stroke="#0578e8" stroke-width="7.5" stroke-linejoin="round" stroke-dasharray="13 19" stroke-dashoffset="-4" stroke-linecap="round"/>
<path d="M432.8,1235.4 L451.8,1268.4 L413.8,1268.4 Z" fill="#0578e8"/>
<path d="M610.6,1042.5 L629.6,1075.5 L591.6,1075.5 Z" fill="#0578e8"/>
<path d="M832.9,848.6 L851.9,881.6 L813.9,881.6 Z" fill="#0578e8"/>
<path d="M966.2,769.3 L985.2,802.3 L947.2,802.3 Z" fill="#0578e8"/>
<path d="M1144.0,573.3 L1163.0,606.3 L1125.0,606.3 Z" fill="#0578e8"/>
<path d="M1232.9,527.5 L1251.9,560.5 L1213.9,560.5 Z" fill="#0578e8"/>
<path d="M1321.8,397.4 L1340.8,430.4 L1302.8,430.4 Z" fill="#0578e8"/>
<path d="M1410.7,357.4 L1429.7,390.4 L1391.7,390.4 Z" fill="#0578e8"/>
<path d="M1499.6,234.8 L1518.6,267.8 L1480.6,267.8 Z" fill="#0578e8"/>
<path d="M1588.5,235.0 L1607.5,268.0 L1569.5,268.0 Z" fill="#0578e8"/>
<path d="M1677.4,165.5 L1696.4,198.5 L1658.4,198.5 Z" fill="#0578e8"/>
<path d="M1766.3,338.5 L1785.3,371.5 L1747.3,371.5 Z" fill="#0578e8"/>
<path d="M1855.2,571.5 L1874.2,604.5 L1836.2,604.5 Z" fill="#0578e8"/></g>
<g id="err-black"><path d="M414.3,852.0 H451.3 M414.3,870.2 H451.3 M592.1,783.9 H629.1 M592.1,797.5 H629.1 M814.4,641.5 H851.4 M814.4,660.5 H851.4 M966.2,505.5 V509.5 M966.2,536.5 V546.6 M947.7,505.5 H984.7 M947.7,546.6 H984.7 M1144.0,388.5 V391.5 M1144.0,418.5 V423.6 M1125.5,388.5 H1162.5 M1125.5,423.6 H1162.5 M1232.9,292.3 V301.5 M1232.9,328.5 V338.8 M1214.4,292.3 H1251.4 M1214.4,338.8 H1251.4 M1321.8,265.2 V266.5 M1303.3,238.0 H1340.3 M1303.3,266.5 H1340.3 M1410.7,168.2 V170.5 M1410.7,197.5 V201.1 M1392.2,168.2 H1429.2 M1392.2,201.1 H1429.2 M1499.6,165.0 V167.9 M1499.6,194.9 V197.8 M1481.1,165.0 H1518.1 M1481.1,197.8 H1518.1 M1570.0,208.0 H1607.0 M1570.0,229.0 H1607.0 M1677.4,414.9 V418.5 M1677.4,445.5 V455.1 M1658.9,414.9 H1695.9 M1658.9,455.1 H1695.9 M1747.8,727.5 H1784.8 M1747.8,743.9 H1784.8 M1836.7,988.4 H1873.7 M1836.7,1005.5 H1873.7" fill="none" stroke="#4f4f4f" stroke-width="6.0"/></g>
<g id="err-red"><path d="M414.3,1067.7 H451.3 M414.3,1086.0 H451.3 M610.6,946.0 V948.5 M610.6,979.5 V983.0 M592.1,946.0 H629.1 M592.1,983.0 H629.1 M814.4,783.0 H851.4 M814.4,800.0 H851.4 M966.2,605.5 V619.0 M966.2,650.0 V666.6 M947.7,605.5 H984.7 M947.7,666.6 H984.7 M1125.5,439.6 H1162.5 M1125.5,470.2 H1162.5 M1232.9,406.0 V408.0 M1214.4,375.8 H1251.4 M1214.4,408.0 H1251.4 M1499.6,230.0 V232.3 M1499.6,263.3 V265.7 M1481.1,230.0 H1518.1 M1481.1,265.7 H1518.1 M1588.5,182.0 V186.5 M1588.5,217.5 V221.5 M1570.0,182.0 H1607.0 M1570.0,221.5 H1607.0 M1677.4,233.7 V235.5 M1658.9,233.7 H1695.9 M1658.9,267.4 H1695.9 M1766.3,531.9 V548.0 M1766.3,579.0 V597.4 M1747.8,531.9 H1784.8 M1747.8,597.4 H1784.8 M1836.7,766.0 H1873.7 M1836.7,780.6 H1873.7" fill="none" stroke="#fd3c3c" stroke-width="6.0"/></g>
<g id="err-blue"><path d="M432.8,1267.4 V1270.0 M414.3,1248.2 H451.3 M414.3,1270.0 H451.3 M592.1,1060.0 H629.1 M592.1,1073.5 H629.1 M814.4,862.4 H851.4 M814.4,881.6 H851.4 M966.2,801.3 V811.2 M947.7,772.2 H984.7 M947.7,811.2 H984.7 M1144.0,605.3 V611.3 M1125.5,579.3 H1162.5 M1125.5,611.3 H1162.5 M1232.9,559.5 V567.7 M1214.4,531.3 H1251.4 M1214.4,567.7 H1251.4 M1321.8,429.4 V441.3 M1303.3,397.4 H1340.3 M1303.3,441.3 H1340.3 M1410.7,354.3 V358.4 M1410.7,389.4 V404.5 M1392.2,354.3 H1429.2 M1392.2,404.5 H1429.2 M1499.6,266.8 V276.4 M1481.1,244.2 H1518.1 M1481.1,276.4 H1518.1 M1588.5,267.0 V278.0 M1570.0,238.0 H1607.0 M1570.0,278.0 H1607.0 M1658.9,180.9 H1695.9 M1658.9,198.0 H1695.9 M1766.3,370.5 V375.9 M1747.8,347.1 H1784.8 M1747.8,375.9 H1784.8 M1836.7,587.8 H1873.7 M1836.7,602.6 H1873.7" fill="none" stroke="#0578e8" stroke-width="6.0"/></g>
<g id="arrows">
<line x1="1006.4" y1="1310.9" x2="1480" y2="937" stroke="#141414" stroke-width="4" stroke-dasharray="15 10.7" stroke-dashoffset="6"/>
<line x1="1537.1" y1="889.7" x2="1649.7" y2="1259.7" stroke="#141414" stroke-width="4" stroke-dasharray="15 10.7"/>
<path d="M1537.1,889.7 L1454.8,908 L1500.5,966.6 Z" fill="#000"/>
<path d="M1670.6,1329.5 L1614.9,1270.6 L1684.7,1248.8 Z" fill="#000"/>
</g>
<g id="axes" stroke="#000" stroke-width="8.0" fill="none">
<rect x="256.0" y="52.3" width="1778.0" height="1428.2"/>
<path d="M344.4,1480.5 V1462.5 M433.3,1480.5 V1448.5 M522.2,1480.5 V1462.5 M611.1,1480.5 V1448.5 M700.0,1480.5 V1462.5 M788.9,1480.5 V1448.5 M877.8,1480.5 V1462.5 M966.7,1480.5 V1448.5 M1055.6,1480.5 V1462.5 M1144.5,1480.5 V1448.5 M1233.4,1480.5 V1462.5 M1322.3,1480.5 V1448.5 M1411.2,1480.5 V1462.5 M1500.1,1480.5 V1448.5 M1589.0,1480.5 V1462.5 M1677.9,1480.5 V1448.5 M1766.8,1480.5 V1462.5 M1855.7,1480.5 V1448.5 M1944.6,1480.5 V1462.5 M256.0,368.5 H285.5 M256.0,684.7 H285.5 M256.0,1004.5 H285.5 M256.0,1320.7 H285.5 M256.0,209.3 H270.5 M256.0,526.6 H270.5 M256.0,844.6 H270.5 M256.0,1162.6 H270.5"/>
</g>
<g id="ticklabels" font-size="71">
<text x="216.0" y="1567.3" dx="0 1.5">40</text>
<text x="393.8" y="1567.3" dx="0 1.5">60</text>
<text x="571.6" y="1567.3" dx="0 1.5">80</text>
<text x="731.4 770.0 805.6" y="1567.3">100</text>
<text x="909.5 948.0 985.1" y="1567.3">120</text>
<text x="1087.3 1127.4 1162.9" y="1567.3">140</text>
<text x="1265.1 1305.2 1340.7" y="1567.3">160</text>
<text x="1444.6 1483.0 1518.5" y="1567.3">180</text>
<text x="1622.4 1659.2 1694.6" y="1567.3">200</text>
<text x="1796.9 1835.3 1872.4" y="1567.3">220</text>
<text x="1976.3 2014.8 2051.9" y="1567.3">240</text>
<text x="107.2" y="70.3" dx="0 4.6 1.2">200</text>
<text x="107.2" y="389.5" dx="0 4.6 1.2">180</text>
<text x="107.2" y="706.3" dx="0 4.6 1.2">160</text>
<text x="107.2" y="1022.0" dx="0 4.6 1.2">140</text>
<text x="107.2" y="1342.3" dx="0 4.6 1.2">120</text>
</g>
<g id="xtitle" font-size="82">
<text y="1669.8"><tspan x="867.3" letter-spacing="-0.4">Temperature</tspan><tspan x="1329.3" font-weight="normal"> /</tspan></text>
<text x="1390.4" y="1677.6" font-size="94" font-weight="normal" stroke="#fff" stroke-width="0.5">°</text>
<text x="1423.0" y="1669.8">C</text>
</g>
<text id="ytitle" transform="translate(81.7,1049.4) rotate(-90)" font-size="82"><tspan x="0" letter-spacing="-0.6">Hardness</tspan><tspan x="334.5" font-weight="normal"> /</tspan><tspan x="372.2"> H</tspan><tspan x="459.8">V</tspan></text>
<g id="legend">
<path d="M415.7,208.2 H483.8 M522.5,208.2 H590.2" stroke="#4f4f4f" stroke-width="7" fill="none"/>
<rect x="488.8" y="193.8" width="28.8" height="28.8" fill="#4f4f4f"/>
<path d="M415.7,299.1 H452.4 M522.5,299.1 H558.1" stroke="#fd3c3c" stroke-width="7" fill="none"/>
<circle cx="500.8" cy="298.9" r="16.5" fill="#fd3c3c"/>
<path d="M415.7,393.6 H433.5 M448.6,393.6 H466.6 M522.5,393.6 H538.2 M554.6,393.6 H571.7" stroke="#0578e8" stroke-width="7.5" fill="none"/>
<path d="M501.2,369.9 L519.8,402.4 L482.3,402.4 Z" fill="#0578e8"/>
<text font-size="71" y="230.3" x="603.1 640.4">10</text>
<text font-size="84" x="675.7" y="240.2" font-weight="normal" stroke="#fff" stroke-width="0.5">°</text>
<text font-size="71" y="230.3"><tspan x="704.0">C</tspan><tspan x="762.1" font-weight="normal">/</tspan><tspan x="778.2" textLength="36.6" lengthAdjust="spacingAndGlyphs">h</tspan></text>
<text font-size="71" y="323.5" x="603.7 640.4">20</text>
<text font-size="84" x="675.7" y="333.4" font-weight="normal" stroke="#fff" stroke-width="0.5">°</text>
<text font-size="71" y="323.5"><tspan x="704.0">C</tspan><tspan x="762.1" font-weight="normal">/</tspan><tspan x="778.2" textLength="36.6" lengthAdjust="spacingAndGlyphs">h</tspan></text>
<text font-size="71" y="414.6" x="606.3 640.4">40</text>
<text font-size="84" x="675.7" y="424.5" font-weight="normal" stroke="#fff" stroke-width="0.5">°</text>
<text font-size="71" y="414.6"><tspan x="704.0">C</tspan><tspan x="762.1" font-weight="normal">/</tspan><tspan x="778.2" textLength="36.6" lengthAdjust="spacingAndGlyphs">h</tspan></text>
</g>
</g>
</svg></body></html>
